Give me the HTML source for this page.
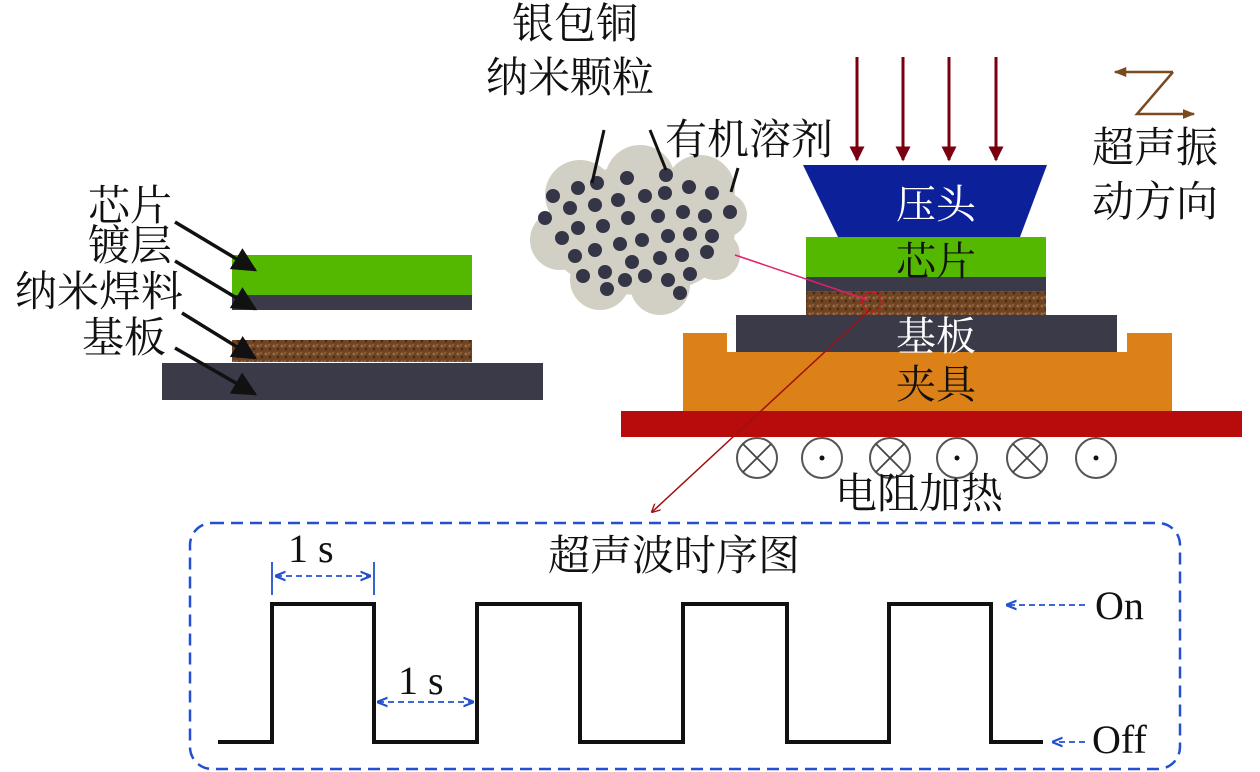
<!DOCTYPE html>
<html><head><meta charset="utf-8"><style>
html,body{margin:0;padding:0;background:#fff;width:1260px;height:772px;overflow:hidden}
svg text{font-family:"Liberation Serif","Noto Serif CJK SC","Noto Sans CJK SC",serif;fill:#111}
</style></head><body>
<svg width="1260" height="772" viewBox="0 0 1260 772" xmlns="http://www.w3.org/2000/svg">
<defs>
<marker id="ak" viewBox="0 0 10 10" refX="9" refY="5" markerWidth="7" markerHeight="7" orient="auto"><path d="M0,0 L10,5 L0,10 z" fill="#111"/></marker>
<marker id="ar" viewBox="0 0 10 10" refX="9" refY="5" markerWidth="5" markerHeight="7" orient="auto"><path d="M0,0 L10,5 L0,10 z" fill="#7a0010"/></marker>
<marker id="ab" viewBox="0 0 10 10" refX="9" refY="5" markerWidth="6" markerHeight="6" orient="auto"><path d="M0,1 L10,5 L0,9" fill="none" stroke="#2250d0" stroke-width="2"/></marker>
<marker id="abr" viewBox="0 0 10 10" refX="1" refY="5" markerWidth="6" markerHeight="6" orient="auto"><path d="M10,1 L0,5 L10,9" fill="none" stroke="#2250d0" stroke-width="2"/></marker>
<marker id="az" viewBox="0 0 10 10" refX="9" refY="5" markerWidth="5" markerHeight="5" orient="auto"><path d="M0,1 L10,5 L0,9 z" fill="#7a4a20"/></marker>
<marker id="ad" viewBox="0 0 10 10" refX="9" refY="5" markerWidth="6" markerHeight="6" orient="auto"><path d="M0,0 L10,5 L0,10" fill="none" stroke="#a01010" stroke-width="1.5"/></marker>
<pattern id="sold" width="8" height="8" patternUnits="userSpaceOnUse"><rect width="8" height="8" fill="#6e4424"/><circle cx="2" cy="2" r="1.5" fill="#9a6a40"/><circle cx="6" cy="5" r="1.3" fill="#4a2a14"/><circle cx="5" cy="1" r="0.8" fill="#b08050"/></pattern>
</defs>

<!-- left stack -->
<rect x="232" y="255" width="240" height="40" fill="#54b800"/>
<rect x="232" y="295" width="240" height="15" fill="#3a3a48"/>
<rect x="232" y="340" width="240" height="22" fill="url(#sold)"/>
<rect x="162" y="363" width="381" height="37" fill="#3a3a48"/>
<text x="88" y="220" font-size="42">芯片</text>
<text x="88" y="260" font-size="42">镀层</text>
<text x="15" y="306" font-size="42">纳米焊料</text>
<text x="82" y="352" font-size="42">基板</text>
<g stroke="#111" stroke-width="3.5" marker-end="url(#ak)">
<line x1="175" y1="222" x2="255" y2="270"/>
<line x1="175" y1="261" x2="255" y2="309"/>
<line x1="182" y1="313" x2="255" y2="358"/>
<line x1="175" y1="348" x2="255" y2="394"/>
</g>

<!-- cloud -->
<g fill="#d2d0c4">
<ellipse cx="640" cy="230" rx="95" ry="65"/>
<circle cx="580" cy="195" r="35"/><circle cx="640" cy="180" r="35"/><circle cx="700" cy="190" r="35"/>
<circle cx="560" cy="240" r="30"/><circle cx="600" cy="280" r="30"/><circle cx="660" cy="285" r="30"/><circle cx="715" cy="255" r="25"/><circle cx="725" cy="215" r="22"/>
</g>
<g fill="#353548">
<circle cx="578" cy="188" r="7"/><circle cx="597" cy="183" r="7"/><circle cx="627" cy="178" r="7"/><circle cx="666" cy="175" r="7"/>
<circle cx="553" cy="196" r="7"/><circle cx="570" cy="208" r="7"/><circle cx="595" cy="205" r="7"/><circle cx="618" cy="200" r="7"/><circle cx="645" cy="196" r="7"/><circle cx="665" cy="193" r="7"/><circle cx="689" cy="187" r="7"/><circle cx="712" cy="193" r="7"/>
<circle cx="545" cy="218" r="7"/><circle cx="578" cy="228" r="7"/><circle cx="603" cy="226" r="7"/><circle cx="628" cy="218" r="7"/><circle cx="658" cy="216" r="7"/><circle cx="683" cy="212" r="7"/><circle cx="705" cy="216" r="7"/><circle cx="730" cy="212" r="7"/>
<circle cx="562" cy="238" r="7"/><circle cx="595" cy="250" r="7"/><circle cx="620" cy="244" r="7"/><circle cx="642" cy="240" r="7"/><circle cx="668" cy="236" r="7"/><circle cx="690" cy="234" r="7"/><circle cx="712" cy="236" r="7"/>
<circle cx="575" cy="256" r="7"/><circle cx="632" cy="262" r="7"/><circle cx="660" cy="258" r="7"/><circle cx="682" cy="255" r="7"/><circle cx="707" cy="252" r="7"/>
<circle cx="583" cy="276" r="7"/><circle cx="605" cy="272" r="7"/><circle cx="625" cy="280" r="7"/><circle cx="645" cy="276" r="7"/><circle cx="668" cy="280" r="7"/><circle cx="690" cy="274" r="7"/>
<circle cx="607" cy="289" r="7"/><circle cx="680" cy="293" r="7"/>
</g>
<text x="512" y="38" font-size="42">银包铜</text>
<text x="486" y="92" font-size="42">纳米颗粒</text>
<text x="665" y="154" font-size="42">有机溶剂</text>
<g stroke="#111" stroke-width="3">
<line x1="604" y1="130" x2="592" y2="183"/>
<line x1="650" y1="130" x2="666" y2="170"/>
<line x1="738" y1="168" x2="731" y2="192"/>
</g>

<!-- right stack -->
<g stroke="#7a0010" stroke-width="3" marker-end="url(#ar)">
<line x1="857" y1="57" x2="857" y2="160"/>
<line x1="903" y1="57" x2="903" y2="160"/>
<line x1="949" y1="57" x2="949" y2="160"/>
<line x1="996" y1="57" x2="996" y2="160"/>
</g>
<polygon points="803,165 1047,165 1020,237 838,237" fill="#0c2199"/>
<text x="896" y="218" font-size="40" style="fill:#fff">压头</text>
<path d="M683,333 H727 V352 H1127 V333 H1172 V411 H683 Z" fill="#dc8018"/>
<rect x="736" y="315" width="381" height="37" fill="#3a3a48"/>
<rect x="806" y="237" width="240" height="40" fill="#54b800"/>
<rect x="806" y="277" width="240" height="14" fill="#3a3a48"/>
<rect x="806" y="291" width="240" height="24" fill="url(#sold)"/>
<rect x="621" y="411" width="621" height="26" fill="#b80c0c"/>
<text x="896" y="275" font-size="40">芯片</text>
<text x="896" y="350" font-size="40" style="fill:#fff">基板</text>
<text x="896" y="398" font-size="40">夹具</text>
<g fill="#fff" stroke="#555" stroke-width="2">
<circle cx="757" cy="458" r="20"/><circle cx="822" cy="458" r="20"/><circle cx="890" cy="458" r="20"/><circle cx="957" cy="458" r="20"/><circle cx="1027" cy="458" r="20"/><circle cx="1096" cy="458" r="20"/>
</g>
<g stroke="#444" stroke-width="1.8">
<path d="M743,444 L771,472 M771,444 L743,472"/>
<path d="M876,444 L904,472 M904,444 L876,472"/>
<path d="M1013,444 L1041,472 M1041,444 L1013,472"/>
</g>
<g fill="#111"><circle cx="822" cy="458" r="2.5"/><circle cx="957" cy="458" r="2.5"/><circle cx="1096" cy="458" r="2.5"/></g>
<text x="835" y="508" font-size="42">电阻加热</text>
<circle cx="872" cy="302" r="10" fill="none" stroke="#e01020" stroke-width="1.5" stroke-dasharray="4,2"/>
<line x1="868" y1="300" x2="735" y2="255" stroke="#e0206a" stroke-width="1.5"/>
<line x1="870" y1="310" x2="652" y2="512" stroke="#a01010" stroke-width="1.5" marker-end="url(#ad)"/>

<!-- Z -->
<g stroke="#7a4a20" stroke-width="2.5" fill="none">
<path d="M1173,72 L1137,114 L1194,114" marker-end="url(#az)"/>
<line x1="1173" y1="72" x2="1115" y2="72" marker-end="url(#az)"/>
</g>
<text x="1092" y="162" font-size="42">超声振</text>
<text x="1092" y="216" font-size="42">动方向</text>

<!-- timing -->
<rect x="190" y="523" width="990" height="246" rx="22" fill="none" stroke="#2250d0" stroke-width="2.5" stroke-dasharray="12,7"/>
<text x="548" y="570" font-size="42">超声波时序图</text>
<path d="M218,742 H272 V604 H374 V742 H477 V604 H580 V742 H683 V604 H787 V742 H889 V604 H991 V742 H1043" fill="none" stroke="#111" stroke-width="4"/>
<g stroke="#2250d0" stroke-width="1.8" fill="none">
<line x1="272" y1="562" x2="272" y2="595"/><line x1="374" y1="562" x2="374" y2="595"/>
<line x1="276" y1="576" x2="370" y2="576" stroke-dasharray="6,4" marker-end="url(#ab)" marker-start="url(#abr)"/>
<line x1="378" y1="702" x2="473" y2="702" stroke-dasharray="6,4" marker-end="url(#ab)" marker-start="url(#abr)"/>
<line x1="1085" y1="605" x2="1007" y2="605" stroke-dasharray="6,4" marker-end="url(#ab)"/>
<line x1="1085" y1="742" x2="1053" y2="742" stroke-dasharray="6,4" marker-end="url(#ab)"/>
</g>
<text x="288" y="562" font-size="40">1 s</text>
<text x="398" y="694" font-size="40">1 s</text>
<text x="1095" y="619" font-size="40">On</text>
<text x="1092" y="753" font-size="40">Off</text>
</svg>
</body></html>
